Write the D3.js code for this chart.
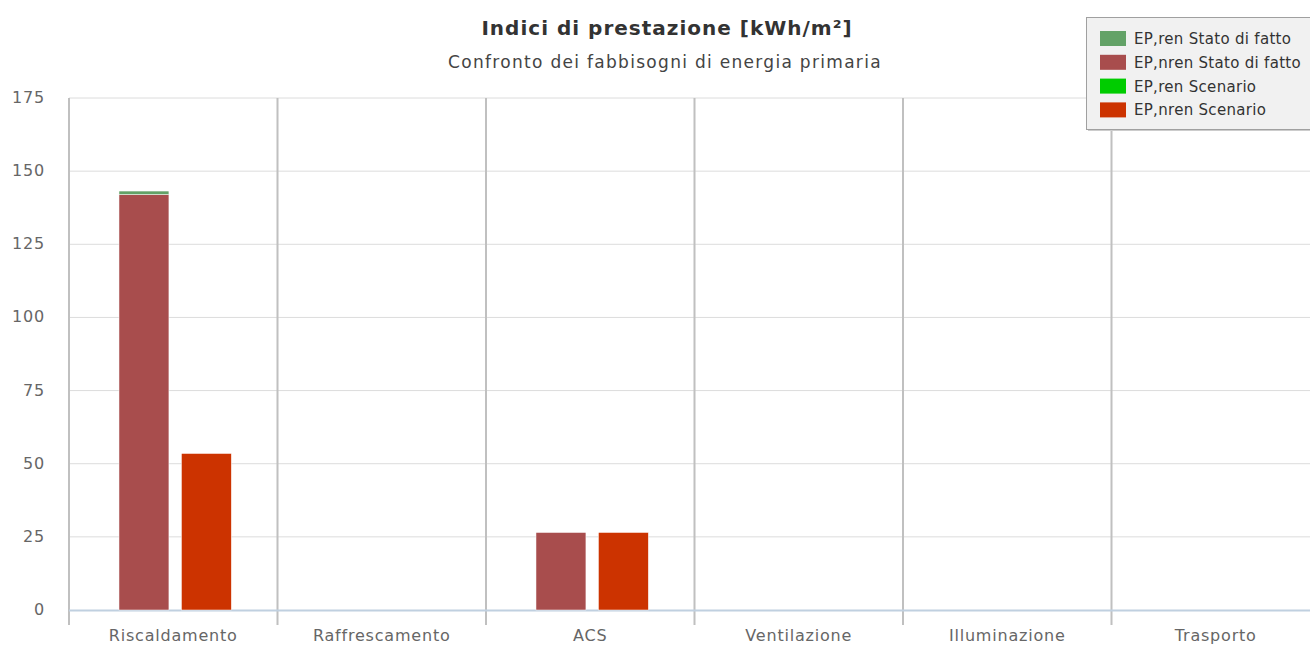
<!DOCTYPE html>
<html><head><meta charset="utf-8">
<script src="https://cdn.jsdelivr.net/npm/d3@7"></script>
<style>body{margin:0;background:#fff;}svg{display:block;font-family:"DejaVu Sans",sans-serif;}</style>
</head><body>
<svg id="c" width="1310" height="646"></svg>
<script>
const categories = ["Riscaldamento","Raffrescamento","ACS","Ventilazione","Illuminazione","Trasporto"];
const renStato = [1.2,0,0,0,0,0];
const nrenStato = [142,0,26.5,0,0,0];
const renScenario = [0,0,0,0,0,0];
const nrenScenario = [53.5,0,26.5,0,0,0];
const yTicks = [0,25,50,75,100,125,150,175];
const seriesNames = ["EP,ren Stato di fatto","EP,nren Stato di fatto","EP,ren Scenario","EP,nren Scenario"];
const seriesColors = ["#63a267","#a84d4d","#00cc00","#cc3300"];

const svg = d3.select("#c");
const L = 69, R = 1320, T = 98, B = 610;
const x = d3.scaleBand().domain(categories).range([L, R]).paddingInner(0).paddingOuter(0);
const y = d3.scaleLinear().domain([0,175]).range([B, T]);

// horizontal grid
svg.append("g").selectAll("line").data(yTicks.filter(d=>d>0)).join("line")
  .attr("x1", L).attr("x2", R).attr("y1", d=>y(d)).attr("y2", d=>y(d))
  .attr("stroke", "#dcdcdc").attr("stroke-width", 1);

// vertical category grid
const bounds = categories.map(c => x(c));
svg.append("g").selectAll("line").data(bounds).join("line")
  .attr("x1", d=>d).attr("x2", d=>d).attr("y1", T).attr("y2", B+15)
  .attr("stroke", "#c0c0c0").attr("stroke-width", 2);

// x axis line
svg.append("line").attr("x1", L).attr("x2", R).attr("y1", B+0.5).attr("y2", B+0.5)
  .attr("stroke", "#c0d0e0").attr("stroke-width", 2);

// bars
const sub = d3.scaleBand().domain(["s","n"]).range([0, x.bandwidth()]).paddingInner(0.2).paddingOuter(0.77).align(0.52);
const stacks = [
  {key:"s", parts:[{v:nrenStato,c:seriesColors[1]},{v:renStato,c:seriesColors[0]}]},
  {key:"n", parts:[{v:nrenScenario,c:seriesColors[3]},{v:renScenario,c:seriesColors[2]}]}
];
const bars = [];
categories.forEach((cat,i)=>{
  stacks.forEach(st=>{
    let base = 0;
    st.parts.forEach(p=>{
      const v = p.v[i];
      if (v>0) bars.push({cat, key:st.key, y0:base, y1:base+v, c:p.c});
      base += v;
    });
  });
});
svg.append("g").selectAll("rect").data(bars).join("rect")
  .attr("x", d=>x(d.cat)+sub(d.key)).attr("width", sub.bandwidth())
  .attr("y", d=>y(d.y1)).attr("height", d=>y(d.y0)-y(d.y1))
  .attr("fill", d=>d.c).attr("stroke","#fff").attr("stroke-width",0.5);

// y labels
svg.append("g").selectAll("text").data(yTicks).join("text")
  .attr("x", 45).attr("y", d=>y(d)+5).attr("text-anchor","end")
  .attr("font-size", 16).attr("letter-spacing", 0.8).attr("fill", "#666").text(d=>d);

// x labels
svg.append("g").selectAll("text").data(categories).join("text")
  .attr("x", d=>x(d)+x.bandwidth()/2).attr("y", 641).attr("text-anchor","middle")
  .attr("font-size", 16).attr("letter-spacing", 0.8).attr("fill", "#666").text(d=>d);

// title
svg.append("text").attr("x", 667).attr("y", 35).attr("text-anchor","middle")
  .attr("font-size", 20).attr("letter-spacing", 1).attr("font-weight","bold").attr("fill","#333").text("Indici di prestazione [kWh/m²]");
svg.append("text").attr("x", 665).attr("y", 68).attr("text-anchor","middle")
  .attr("font-size", 17).attr("letter-spacing", 1.3).attr("fill","#444").text("Confronto dei fabbisogni di energia primaria");

// legend
const lg = svg.append("g").attr("transform","translate(1086,17)");
lg.append("rect").attr("x",2).attr("y",2).attr("width",240).attr("height",112).attr("fill","#ccc");
lg.append("rect").attr("x",0.5).attr("y",0.5).attr("width",240).attr("height",112)
  .attr("fill","#f1f1f1").attr("stroke","#a0a0a0");
const items = lg.selectAll("g.it").data(seriesNames).join("g").attr("class","it")
  .attr("transform",(d,i)=>`translate(14,${14+i*23.8})`);
items.append("rect").attr("width",26).attr("height",15).attr("fill",(d,i)=>seriesColors[i]);
items.append("text").attr("x",34).attr("y",13).attr("font-size",15).attr("letter-spacing",0.3).attr("fill","#333").text(d=>d);
</script>
</body></html>
